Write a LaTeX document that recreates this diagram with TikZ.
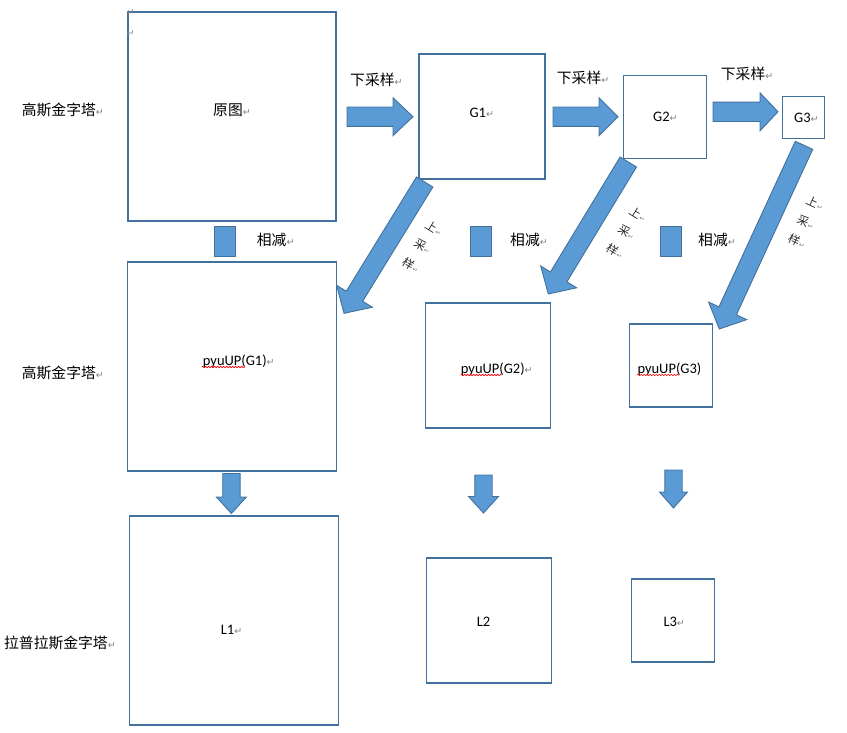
\documentclass[tikz,border=0pt]{standalone}
\usepackage{fontspec}
\setmainfont{Carlito}
\newfontfamily\cjk{Noto Sans CJK SC}
\newfontfamily\symf{DejaVu Sans}
\usetikzlibrary{calc,decorations.pathmorphing}
\definecolor{boxline}{HTML}{41719C}
\definecolor{arrfill}{HTML}{5B9BD5}
\definecolor{arrline}{HTML}{41719C}
\definecolor{pmgray}{HTML}{808080}
\newcommand\pmk{{\symf\fontsize{9.5}{9.5}\selectfont\color{pmgray}↵}}
\newcommand\pmks{{\symf\fontsize{6.5}{6.5}\selectfont\color{pmgray}↵}}
% block arrow: #1 tail coord, #2 tip coord, #3 shaft half width, #4 head half width, #5 head length
\newcommand\blkarr[5]{%
  \coordinate (ba-b) at ($(#2)!#5!(#1)$);
  \filldraw[blockarr] ($(#1)!#3!90:(#2)$) -- ($(ba-b)!#3!90:(#2)$) -- ($(ba-b)!#4!90:(#2)$) -- (#2)
     -- ($(ba-b)!#4!-90:(#2)$) -- ($(ba-b)!#3!-90:(#2)$) -- ($(#1)!#3!-90:(#2)$) -- cycle;}
\begin{document}
\begin{tikzpicture}[x=1pt,y=-1pt,
  box/.style={draw=boxline, line width=1.2pt, fill=white, inner sep=0pt},
  blockarr/.style={fill=arrfill, draw=arrline, line width=0.9pt, line join=miter},
  minus/.style={fill=arrfill, draw=arrline, line width=0.9pt, minimum width=21.7pt, minimum height=30pt, inner sep=0pt},
  lat/.style={inner sep=0pt, anchor=west, font=\fontsize{14.5}{16}\selectfont},
  han/.style={inner sep=0pt, anchor=west, font=\cjk\fontsize{14.8}{16}\selectfont},
  upch/.style={inner sep=0pt, font=\cjk\fontsize{11.5}{12}\selectfont, text=black!85},
  spell/.style={draw=red, line width=0.6pt, decorate, decoration={snake, amplitude=0.8pt, segment length=3pt}}]
\useasboundingbox (0,0) rectangle (847,732);

% boxes
\node[box, minimum width=208pt, minimum height=209pt] (orig) at (232,116.5) {};
\node[box, minimum width=126pt, minimum height=125pt] (g1) at (482,116.5) {};
\node[box, minimum width=83pt, minimum height=83pt] (g2) at (664.8,116.7) {};
\node[box, minimum width=42pt, minimum height=42pt] (g3) at (803.3,117.5) {};
\node[box, minimum width=209pt, minimum height=209pt] (p1) at (232,366.5) {};
\node[box, minimum width=125pt, minimum height=125pt] (p2) at (488,365.5) {};
\node[box, minimum width=83pt, minimum height=83pt] (p3) at (670.8,365.5) {};
\node[box, minimum width=209pt, minimum height=209pt] (l1) at (233.8,620.5) {};
\node[box, minimum width=125pt, minimum height=125pt] (l2) at (488.8,620.5) {};
\node[box, minimum width=83pt, minimum height=83pt] (l3) at (672.8,620.5) {};

% subtraction markers
\node[minus] (m1) at (224.8,241) {};
\node[minus] (m2) at (480.8,241.3) {};
\node[minus] (m3) at (670.8,241.3) {};

% texts
\node[han] (t-r1) at (21.7,110) {高斯金字塔\pmk};
\node[han] (t-r2) at (21.7,373) {高斯金字塔\pmk};
\node[han] (t-r3) at (4,643.3) {拉普拉斯金字塔\pmk};
\node[han] (t-orig) at (213,110) {原图\pmk};
\node[lat] (t-g1) at (469.3,112.5) {G1\pmk};
\node[lat] (t-g2) at (653,116.7) {G2\pmk};
\node[lat] (t-g3) at (794,117.7) {G3\pmk};
\node[han] (d1) at (350,80) {下采样\pmk};
\node[han] (d2) at (556.7,78.3) {下采样\pmk};
\node[han] (d3) at (720.7,74.3) {下采样\pmk};
\node[han] (s1) at (256.7,240) {相减\pmk};
\node[han] (s2) at (510,240) {相减\pmk};
\node[han] (s3) at (698,240) {相减\pmk};
\node[lat] (t-p1) at (202.7,361.7) {pyuUP(G1)\pmk};
\node[lat] (t-p2) at (460.7,369.3) {pyuUP(G2)\pmk};
\node[lat] (t-p3) at (637.3,369.3) {pyuUP(G3)};
\node[lat] (t-l1) at (220.7,630) {L1\pmk};
\node[lat] (t-l2) at (476.7,621.7) {L2};
\node[lat] (t-l3) at (663.3,621.7) {L3\pmk};
\node[inner sep=0pt] (pm1) at (130.5,12.7) {\pmk};
\node[inner sep=0pt] (pm2) at (130.5,34) {\pmk};

% spelling squiggles
\draw[spell] (201.7,367) -- (245,367);
\draw[spell] (460.7,375) -- (501.7,375);
\draw[spell] (637.3,375) -- (679.3,375);

% horizontal down-sampling arrows
\coordinate (h1t) at (347,116.7); \coordinate (h1h) at (413,116.7);
\coordinate (h2t) at (553,116.7); \coordinate (h2h) at (618,116.7);
\coordinate (h3t) at (713,111.8); \coordinate (h3h) at (778,111.8);
\blkarr{h1t}{h1h}{9.7pt}{19pt}{20pt}
\blkarr{h2t}{h2h}{9.7pt}{19pt}{19pt}
\blkarr{h3t}{h3h}{9.7pt}{19pt}{18pt}

% diagonal up-sampling arrows
\coordinate (u1t) at (424.7,182); \coordinate (u1h) at (344,313.3);
\coordinate (u2t) at (628.3,162); \coordinate (u2h) at (548.3,294);
\coordinate (u3t) at (804,145.3); \coordinate (u3h) at (719.3,329);
\blkarr{u1t}{u1h}{9.6pt}{21pt}{20pt}
\blkarr{u2t}{u2h}{9.6pt}{21pt}{20pt}
\blkarr{u3t}{u3h}{9.6pt}{21pt}{20pt}

% down arrows
\coordinate (v1t) at (231.4,473.5); \coordinate (v1h) at (231.4,513.5);
\coordinate (v2t) at (483.5,475); \coordinate (v2h) at (483.5,513);
\coordinate (v3t) at (673.5,470); \coordinate (v3h) at (673.5,508);
\blkarr{v1t}{v1h}{8.7pt}{15pt}{16.5pt}
\blkarr{v2t}{v2h}{8.7pt}{15pt}{16.5pt}
\blkarr{v3t}{v3h}{8.7pt}{14pt}{16pt}

% up-sampling labels (one rotated character per node)
\node[upch, rotate=-31.6] (ua1) at (432,226.7) {上\rlap{\pmks}};
\node[upch, rotate=-31.6] (ua2) at (420.5,245) {采\rlap{\pmks}};
\node[upch, rotate=-31.6] (ua3) at (409,263.3) {样\rlap{\pmks}};
\node[upch, rotate=-31.6] (ub1) at (636,212.5) {上\rlap{\pmks}};
\node[upch, rotate=-31.6] (ub2) at (624.5,231) {采\rlap{\pmks}};
\node[upch, rotate=-31.6] (ub3) at (613,249.5) {样\rlap{\pmks}};
\node[upch, rotate=-24.7] (uc1) at (813,201.7) {上\rlap{\pmks}};
\node[upch, rotate=-24.7] (uc2) at (803.8,221) {采\rlap{\pmks}};
\node[upch, rotate=-24.7] (uc3) at (795,240) {样\rlap{\pmks}};
\end{tikzpicture}
\end{document}
